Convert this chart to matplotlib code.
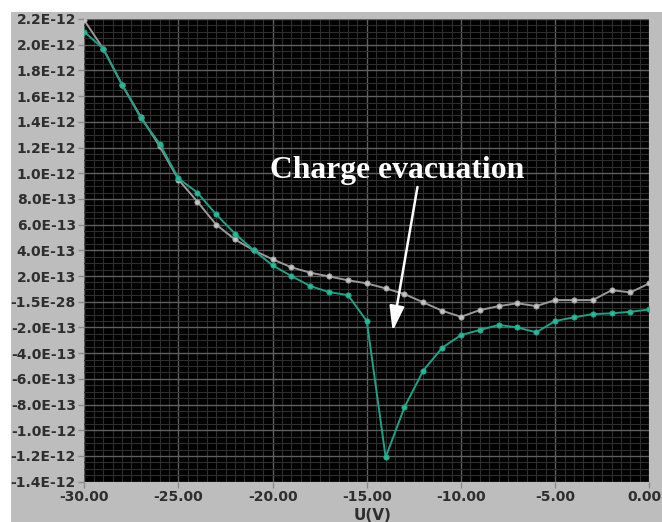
import matplotlib
matplotlib.use("Agg")
import matplotlib.pyplot as plt
import matplotlib.transforms as mtransforms
from matplotlib.patches import Rectangle
from matplotlib.ticker import MultipleLocator

# ---------------- data ----------------
voltage = [-30, -29, -28, -27, -26, -25, -24, -23, -22, -21, -20, -19, -18, -17, -16,
           -15, -14, -13, -12, -11, -10, -9, -8, -7, -6, -5, -4, -3, -2, -1, 0]

current_teal = [2.10e-12, 1.97e-12, 1.69e-12, 1.43e-12, 1.23e-12, 0.96e-12, 0.85e-12,
                0.68e-12, 0.53e-12, 0.40e-12, 0.283e-12, 0.20e-12, 0.122e-12, 0.075e-12,
                0.052e-12, -0.15e-12, -1.21e-12, -0.82e-12, -0.535e-12, -0.358e-12,
                -0.259e-12, -0.22e-12, -0.18e-12, -0.20e-12, -0.238e-12, -0.15e-12,
                -0.121e-12, -0.096e-12, -0.09e-12, -0.078e-12, -0.06e-12]

current_gray = [2.19e-12, 1.97e-12, 1.69e-12, 1.44e-12, 1.21e-12, 0.95e-12, 0.78e-12,
                0.60e-12, 0.485e-12, 0.40e-12, 0.33e-12, 0.268e-12, 0.226e-12, 0.197e-12,
                0.167e-12, 0.143e-12, 0.104e-12, 0.06e-12, -0.005e-12, -0.07e-12,
                -0.117e-12, -0.065e-12, -0.034e-12, -0.012e-12, -0.034e-12, 0.013e-12,
                0.013e-12, 0.013e-12, 0.09e-12, 0.073e-12, 0.143e-12]

x_ticks = [-30, -25, -20, -15, -10, -5, 0]
x_tick_labels = ["-30.00", "-25.00", "-20.00", "-15.00", "-10.00", "-5.00", "0.00"]

y_ticks = [2.2e-12, 2.0e-12, 1.8e-12, 1.6e-12, 1.4e-12, 1.2e-12, 1.0e-12, 0.8e-12,
           0.6e-12, 0.4e-12, 0.2e-12, 0.0, -0.2e-12, -0.4e-12, -0.6e-12, -0.8e-12,
           -1.0e-12, -1.2e-12, -1.4e-12]
y_tick_labels = ["2.2E-12", "2.0E-12", "1.8E-12", "1.6E-12", "1.4E-12", "1.2E-12",
                 "1.0E-12", "8.0E-13", "6.0E-13", "4.0E-13", "2.0E-13", "-1.5E-28",
                 "-2.0E-13", "-4.0E-13", "-6.0E-13", "-8.0E-13", "-1.0E-12",
                 "-1.2E-12", "-1.4E-12"]

annotation_text = "Charge evacuation"
x_label = "U(V)"

# ---------------- figure ----------------
W, H = 662, 522
fig = plt.figure(figsize=(W / 100, H / 100), dpi=100, facecolor="white")

# grey panel behind the plot
fig.patches.append(Rectangle((11 / W, 0), 1 - 11 / W, (H - 12) / H,
                             transform=fig.transFigure, facecolor="#bdbdbd",
                             edgecolor="none", zorder=-10))

left, right, top, bottom = 84.3, 649.3, 19.0, 481.7
ax = fig.add_axes([left / W, 1 - bottom / H, (right - left) / W, (bottom - top) / H])
ax.set_facecolor("black")

ax.set_xlim(-30, 0)
ax.set_ylim(-1.4e-12, 2.2e-12)

ax.xaxis.set_minor_locator(MultipleLocator(0.5))
ax.yaxis.set_minor_locator(MultipleLocator(0.05e-12))
ax.set_xticks(x_ticks)
ax.set_xticklabels(x_tick_labels)
ax.set_yticks(y_ticks)
ax.set_yticklabels(y_tick_labels)

ax.grid(which="minor", color="#2e2e2e", linewidth=0.8)
ax.grid(which="major", color="#606060", linewidth=1.0)
ax.set_axisbelow(True)

ax.tick_params(which="minor", length=0)
ax.tick_params(which="major", direction="out", length=4, width=1, color="#8a8a8a",
               labelcolor="#2e2e2e", pad=2)
for lbl in ax.get_xticklabels() + ax.get_yticklabels():
    lbl.set_fontsize(10)
    lbl.set_fontweight("bold")
# nudge the last x tick label so it stays inside the picture
last = ax.get_xticklabels()[-1]
last.set_transform(last.get_transform() +
                   mtransforms.ScaledTranslation(-5 / 100, 0, fig.dpi_scale_trans))
for s in ax.spines.values():
    s.set_visible(False)

ax.plot(voltage, current_gray, color="#9a9a9a", linewidth=1.4, marker="o",
        markersize=3.8, markerfacecolor="#c4c4c4", markeredgecolor="#9a9a9a",
        markeredgewidth=0.6, zorder=3)
ax.plot(voltage, current_teal, color="#1ca386", linewidth=1.4, marker="o",
        markersize=3.8, markerfacecolor="#28b996", markeredgecolor="#1ca386",
        markeredgewidth=0.6, zorder=4)

ax.set_xlabel(x_label, fontsize=11, fontweight="bold", color="#2e2e2e")
ax.xaxis.set_label_coords(0.511, -0.056)

ax.text(-20.15, 0.96e-12, annotation_text, color="white", fontsize=22.8,
        fontweight="bold", family=["Liberation Serif", "DejaVu Serif"],
        ha="left", va="baseline", zorder=6)
ax.annotate("", xy=(-13.63, -0.228e-12), xytext=(-12.31, 0.893e-12),
            arrowprops=dict(arrowstyle="-|>,head_length=1.5,head_width=0.45",
                            color="white", lw=1.8, shrinkA=0, shrinkB=0,
                            mutation_scale=10), zorder=6)

fig.savefig("out.png", dpi=100, facecolor="white")
